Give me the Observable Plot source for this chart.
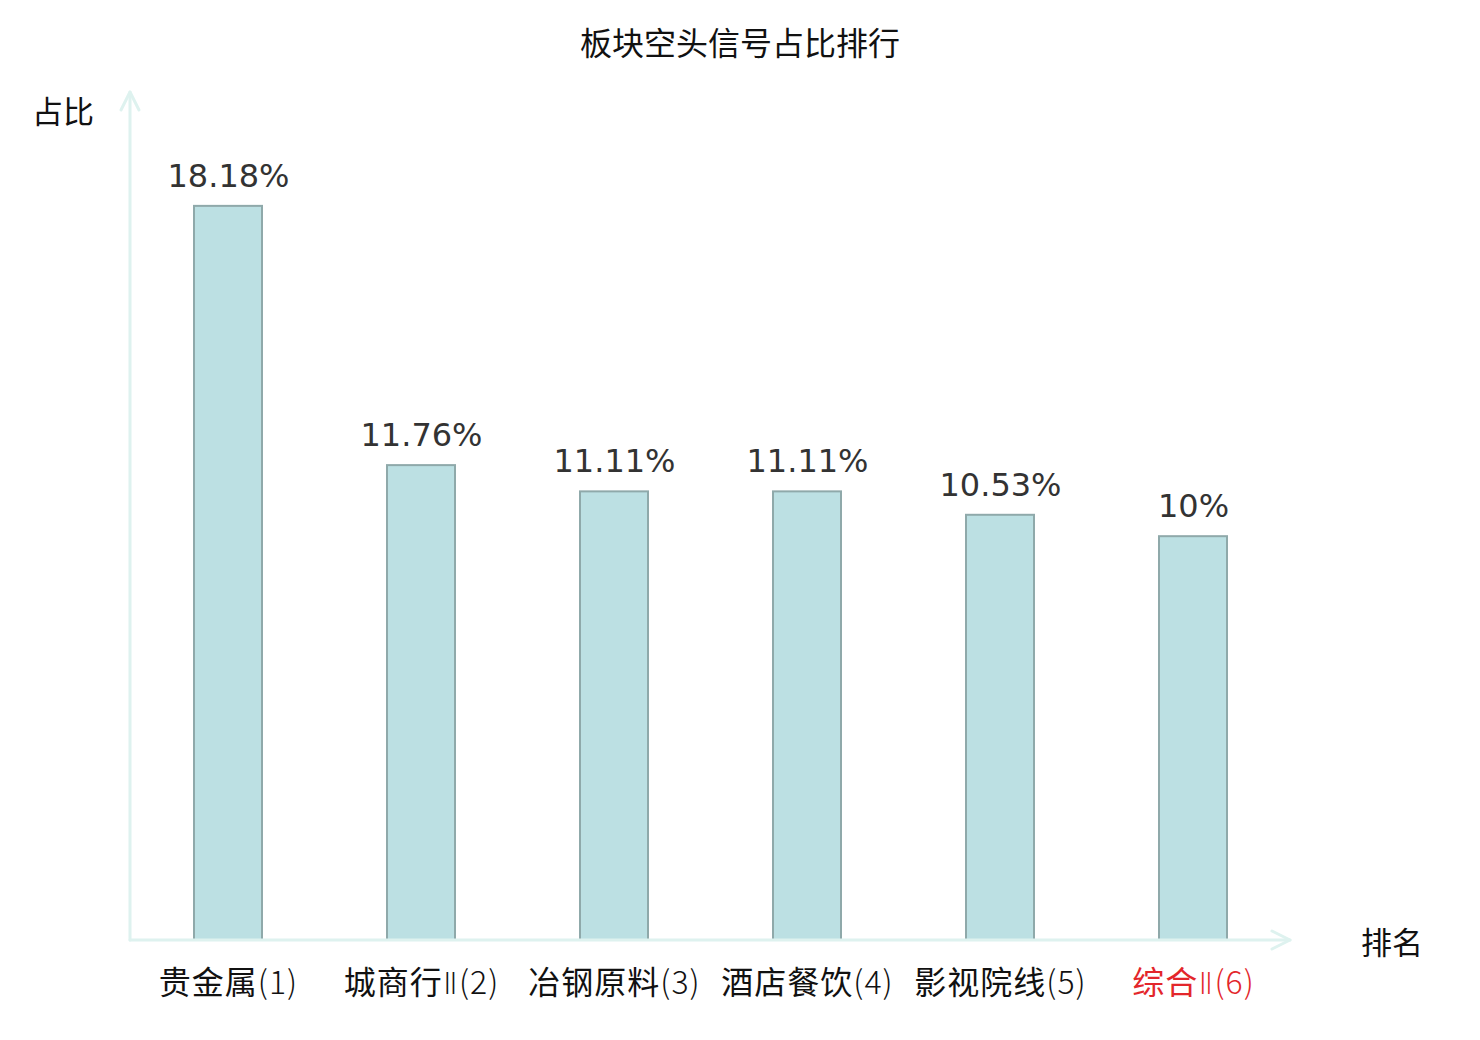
<!DOCTYPE html>
<html>
<head>
<meta charset="utf-8">
<script src="https://cdn.jsdelivr.net/npm/d3@7"></script>
<script src="https://cdn.jsdelivr.net/npm/@observablehq/plot@0.6"></script>
<style>
  html, body { margin: 0; padding: 0; background: #fff; }
  #chart svg { display: block; }
</style>
</head>
<body>
<div id="chart"></div>
<script>
const categories = ["贵金属(1)", "城商行Ⅱ(2)", "冶钢原料(3)", "酒店餐饮(4)", "影视院线(5)", "综合Ⅱ(6)"];
const values = [18.18, 11.76, 11.11, 11.11, 10.53, 10];
const valueLabels = ["18.18%", "11.76%", "11.11%", "11.11%", "10.53%", "10%"];
const labelColors = ["#111", "#111", "#111", "#111", "#111", "#e3262b"];
const title = "板块空头信号占比排行";
const yTitle = "占比";
const xTitle = "排名";

const data = categories.map((c, i) => ({cat: c, v: values[i], label: valueLabels[i], color: labelColors[i]}));

const W = 1480, H = 1040;
const plot = Plot.plot({
  width: W,
  height: H,
  marginLeft: 130,
  marginRight: 190,
  marginBottom: 100,
  marginTop: 92,
  style: {fontFamily: "'Noto Sans CJK SC', sans-serif", background: "#fff"},
  x: {domain: categories, paddingInner: 0.648, paddingOuter: 0.324, axis: null},
  y: {domain: [0, 21], axis: null},
  marks: [
    Plot.barY(data, {x: "cat", y: "v", fill: "#bce0e3", stroke: "#8fa9aa", strokeWidth: 2}),
    Plot.text(data, {x: "cat", y: "v", text: "label", dy: -30, fontSize: 32, fill: "#333",
      fontFamily: "'DejaVu Sans', sans-serif"}),
    Plot.text(data, {x: "cat", y: () => 0, text: "cat", dy: 43, fontSize: 32, fill: "color",
      fontFamily: "'Noto Sans CJK SC', sans-serif", className: "catlabel"})
  ]
});

const svg = d3.select(plot);

// render the non-CJK part of category labels in a lighter, narrower style
svg.selectAll("g.catlabel text").each(function() {
  const t = d3.select(this);
  const s = t.text();
  const m = s.match(/^([\u4e00-\u9fff]+)(.*)$/);
  if (!m) return;
  t.text(null).attr("letter-spacing", 1);
  t.append("tspan").text(m[1]);
  const rest = m[2];
  const parts = rest.split(/(Ⅱ)/).filter(p => p.length);
  parts.forEach(p => {
    if (p === "Ⅱ") {
      t.append("tspan").attr("font-family", "'DejaVu Sans', sans-serif").attr("font-weight", 300)
        .attr("font-size", 31).text(p);
    } else {
      t.append("tspan").attr("font-weight", 300).text(p);
    }
  });
});

const xs = plot.scale("x"), ys = plot.scale("y");
const x0 = xs.range[0], x1 = xs.range[1];
const y0 = ys.range[0], y1 = ys.range[1];
const axisColor = "#def2ef";
const g = svg.append("g").attr("stroke", axisColor).attr("stroke-width", 3).attr("fill", "none")
  .attr("stroke-linecap", "round").attr("stroke-linejoin", "round");
// x axis with arrow
g.append("line").attr("x1", x0).attr("y1", y0).attr("x2", x1).attr("y2", y0);
g.append("path").attr("d", `M${x1 - 18},${y0 - 9}L${x1},${y0}L${x1 - 18},${y0 + 9}`);
// y axis with arrow
g.append("line").attr("x1", x0).attr("y1", y0).attr("x2", x0).attr("y2", y1);
g.append("path").attr("d", `M${x0 - 9},${y1 + 18}L${x0},${y1}L${x0 + 9},${y1 + 18}`);

// titles
const tg = svg.append("g").attr("font-family", "'Noto Sans CJK SC', sans-serif").attr("fill", "#111");
tg.append("text").attr("x", W / 2).attr("y", 41).attr("text-anchor", "middle").attr("dominant-baseline", "central")
  .attr("font-size", 32).text(title);
tg.append("text").attr("x", 63).attr("y", 109).attr("text-anchor", "middle").attr("dominant-baseline", "central")
  .attr("font-size", 31).text(yTitle);
tg.append("text").attr("x", 1392).attr("y", y0).attr("text-anchor", "middle").attr("dominant-baseline", "central")
  .attr("font-size", 31).text(xTitle);

document.getElementById("chart").appendChild(plot);
</script>
</body>
</html>
